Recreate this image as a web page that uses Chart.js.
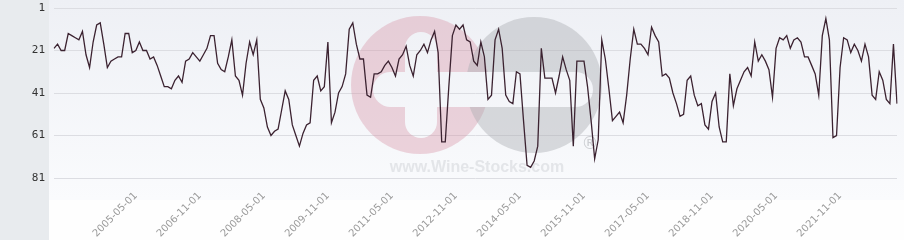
<!DOCTYPE html>
<html><head><meta charset="utf-8">
<script src="https://cdn.jsdelivr.net/npm/chart.js@4"></script>
<style>html,body{margin:0;padding:0;background:#fff;}#wrap{width:904px;height:240px;}</style>
</head><body><div id="wrap"><canvas id="c" width="904" height="240"></canvas></div>
<script>
// first month of the series (2003-06-01), one point per month
const startYear = 2003;
const startMonth = 6;

// rank values (1 = top)
const ranks = [
 20,18,21,21,13,14,15,16,12,23, 29,17,9,8,18,29,26,25,24,24,
 13,13,22,21,17,21,21,25,24,28, 33,38,38,39,35,33,36,26,25,22,
 24,26,23,20,14,14,27,30,31,24, 16,33,35,42,27,17,23,16,44,48,
 57,61,59,58,49,40,44,56,61,66, 60,56,55,35,33,40,38,17,55,50,
 41,38,32,11,8,18,25,25,42,43, 32,32,31,28,26,29,33,25,23,19,
 28,33,23,21,18,22,16,12,22,64, 64,38,14,9,11,9,16,17,26,28,
 17,24,44,42,16,11,20,42,45,46, 31,32,54,75,76,73,66,20,34,34,
 34,41,33,24,30,35,66,26,26,26, 38,54,72,63,16,25,39,54,52,50,
 55,42,25,11,18,18,20,23,10,14, 17,33,32,34,41,46,52,51,35,33,
 42,47,46,56,58,45,41,57,64,64, 32,47,39,35,31,29,33,17,26,23,
 26,30,43,20,15,16,14,20,16,15, 17,24,24,28,32,42,14,6,16,62,
 61,29,15,16,22,18,21,26,18,24, 42,44,31,35,44,46,18,46
];

const tickLabels = ['2005-05-01','2006-11-01','2008-05-01','2009-11-01','2011-05-01','2012-11-01',
  '2014-05-01','2015-11-01','2017-05-01','2018-11-01','2020-05-01','2021-11-01'];
const yTicks = [1, 21, 41, 61, 81];

const months = [];
for (let k = 0; k < ranks.length; k++) {
  const m = startMonth - 1 + k;
  const yy = startYear + Math.floor(m / 12);
  const mm = (m % 12) + 1;
  months.push(yy + '-' + String(mm).padStart(2, '0') + '-01');
}

const bgPlugin = {
  id: 'bg',
  beforeDraw(chart) {
    const ctx = chart.ctx;
    ctx.save();
    ctx.fillStyle = '#e8ebee';
    ctx.fillRect(0, 0, 49, 240);
    const g = ctx.createLinearGradient(0, 0, 0, 200);
    g.addColorStop(0, '#eef0f5');
    g.addColorStop(1, '#fafbfd');
    ctx.fillStyle = g;
    ctx.fillRect(49, 0, 855, 200);
    ctx.fillStyle = '#fefefe';
    ctx.fillRect(49, 200, 855, 40);
    ctx.restore();
  }
};

function roundRect(c, x, y, w, h, r) {
  c.beginPath();
  c.moveTo(x + r, y);
  c.lineTo(x + w - r, y);
  c.arc(x + w - r, y + r, r, -Math.PI / 2, 0);
  c.lineTo(x + w, y + h - r);
  c.arc(x + w - r, y + h - r, r, 0, Math.PI / 2);
  c.lineTo(x + r, y + h);
  c.arc(x + r, y + h - r, r, Math.PI / 2, Math.PI);
  c.lineTo(x, y + r);
  c.arc(x + r, y + r, r, Math.PI, Math.PI * 1.5);
  c.closePath();
}

const wmPlugin = {
  id: 'wm',
  beforeDatasetsDraw(chart) {
    const ctx = chart.ctx;
    const off = document.createElement('canvas');
    off.width = 904; off.height = 240;
    const o = off.getContext('2d');
    o.fillStyle = 'rgba(214,140,160,0.36)';
    o.beginPath(); o.arc(420, 85, 69, 0, Math.PI * 2); o.fill();
    o.fillStyle = 'rgba(170,172,176,0.42)';
    o.beginPath(); o.arc(534, 85, 68, 0, Math.PI * 2); o.fill();
    o.globalCompositeOperation = 'destination-out';
    o.fillStyle = '#000';
    roundRect(o, 373, 72, 220, 35, 17.5); o.fill();
    roundRect(o, 405, 32, 32, 106, 16); o.fill();
    o.globalCompositeOperation = 'source-over';
    o.fillStyle = 'rgba(190,192,198,0.35)';
    o.font = 'bold 16px "Liberation Sans", Arial, sans-serif';
    o.textAlign = 'center';
    o.textBaseline = 'alphabetic';
    o.fillText('www.Wine-Stocks.com', 477, 172);
    o.fillStyle = 'rgba(170,172,176,0.55)';
    o.font = '17px "DejaVu Sans", sans-serif';
    o.textBaseline = 'middle';
    o.fillText('\u00AE', 590, 145);
    ctx.save();
    ctx.drawImage(off, 0, 0);
    ctx.restore();
  }
};

new Chart(document.getElementById('c'), {
  type: 'line',
  data: {
    labels: months,
    datasets: [{
      data: ranks,
      borderColor: '#3b2230',
      borderWidth: 1.3,
      pointRadius: 0,
      tension: 0,
      fill: false
    }]
  },
  options: {
    responsive: false,
    animation: false,
    layout: { padding: { top: 8, right: 7, left: 0, bottom: 0 } },
    plugins: { legend: { display: false }, tooltip: { enabled: false } },
    scales: {
      x: {
        grid: { display: false, drawTicks: false },
        border: { display: false },
        ticks: {
          autoSkip: false, minRotation: 45, maxRotation: 45, padding: 12,
          color: '#9a9a9a', font: { family: 'DejaVu Sans', size: 10 }
        },
        afterBuildTicks: s => { s.ticks = tickLabels.map(l => ({ value: months.indexOf(l) })); },
        afterFit: s => { s.height = 62; s.paddingLeft = 0; s.paddingRight = 0; }
      },
      y: {
        reverse: true, min: 1, max: 81,
        grid: { color: '#dcdde2', drawTicks: false, lineWidth: 1 },
        border: { display: false },
        ticks: { padding: 9, color: '#333', font: { family: 'DejaVu Sans Mono', size: 11 } },
        afterBuildTicks: s => { s.ticks = yTicks.map(v => ({ value: v })); },
        afterFit: s => { s.width = 54; s.paddingTop = 0; s.paddingBottom = 0; }
      }
    }
  },
  plugins: [bgPlugin, wmPlugin]
});
</script>
</body></html>
